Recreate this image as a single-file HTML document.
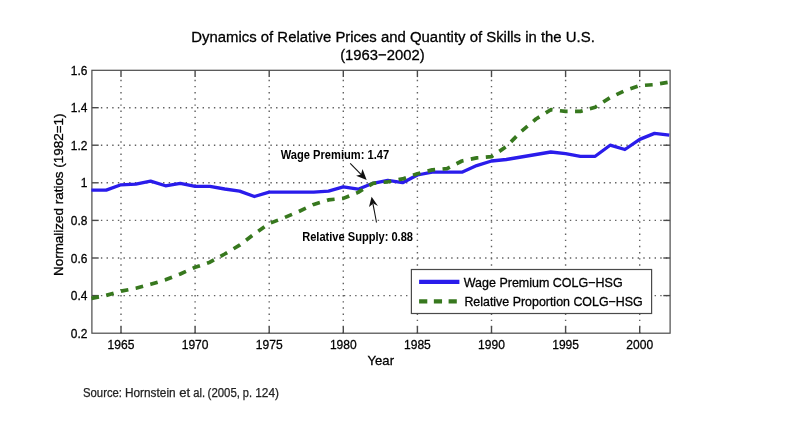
<!DOCTYPE html>
<html><head><meta charset="utf-8"><title>Chart</title>
<style>html,body{margin:0;padding:0;background:#fff;}text,.ls{font-family:"Liberation Sans",sans-serif;}body{width:797px;height:427px;position:relative;overflow:hidden;font-family:"Liberation Sans",sans-serif;}</style></head>
<body>
<svg width="797" height="427" viewBox="0 0 797 427" style="position:absolute;left:0;top:0;filter:blur(0.45px)">
<rect width="797" height="427" fill="#fff"/>
<g stroke="#606060" stroke-width="1.4" fill="none">
<line x1="121.0" y1="79.8" x2="121.0" y2="333.2" stroke-dasharray="1.4 4.75"/>
<line x1="195.1" y1="79.8" x2="195.1" y2="333.2" stroke-dasharray="1.4 4.75"/>
<line x1="269.2" y1="79.8" x2="269.2" y2="333.2" stroke-dasharray="1.4 4.75"/>
<line x1="343.3" y1="79.8" x2="343.3" y2="333.2" stroke-dasharray="1.4 4.75"/>
<line x1="417.4" y1="79.8" x2="417.4" y2="333.2" stroke-dasharray="1.4 4.75"/>
<line x1="491.5" y1="79.8" x2="491.5" y2="333.2" stroke-dasharray="1.4 4.75"/>
<line x1="565.6" y1="79.8" x2="565.6" y2="333.2" stroke-dasharray="1.4 4.75"/>
<line x1="639.7" y1="79.8" x2="639.7" y2="333.2" stroke-dasharray="1.4 4.75"/>
<line x1="100.9" y1="107.7" x2="670.1" y2="107.7" stroke-dasharray="1.4 4.25"/>
<line x1="100.9" y1="145.2" x2="670.1" y2="145.2" stroke-dasharray="1.4 4.25"/>
<line x1="100.9" y1="182.8" x2="670.1" y2="182.8" stroke-dasharray="1.4 4.25"/>
<line x1="100.9" y1="220.4" x2="670.1" y2="220.4" stroke-dasharray="1.4 4.25"/>
<line x1="100.9" y1="258.0" x2="670.1" y2="258.0" stroke-dasharray="1.4 4.25"/>
<line x1="100.9" y1="295.6" x2="670.1" y2="295.6" stroke-dasharray="1.4 4.25"/>
</g>
<rect x="91.9" y="70.3" width="578.2" height="262.9" fill="none" stroke="#4a4a4a" stroke-width="1.2"/>
<g stroke="#4a4a4a" stroke-width="1.4">
<line x1="121.0" y1="333.2" x2="121.0" y2="326.4"/>
<line x1="121.0" y1="70.3" x2="121.0" y2="77.1"/>
<line x1="195.1" y1="333.2" x2="195.1" y2="326.4"/>
<line x1="195.1" y1="70.3" x2="195.1" y2="77.1"/>
<line x1="269.2" y1="333.2" x2="269.2" y2="326.4"/>
<line x1="269.2" y1="70.3" x2="269.2" y2="77.1"/>
<line x1="343.3" y1="333.2" x2="343.3" y2="326.4"/>
<line x1="343.3" y1="70.3" x2="343.3" y2="77.1"/>
<line x1="417.4" y1="333.2" x2="417.4" y2="326.4"/>
<line x1="417.4" y1="70.3" x2="417.4" y2="77.1"/>
<line x1="491.5" y1="333.2" x2="491.5" y2="326.4"/>
<line x1="491.5" y1="70.3" x2="491.5" y2="77.1"/>
<line x1="565.6" y1="333.2" x2="565.6" y2="326.4"/>
<line x1="565.6" y1="70.3" x2="565.6" y2="77.1"/>
<line x1="639.7" y1="333.2" x2="639.7" y2="326.4"/>
<line x1="639.7" y1="70.3" x2="639.7" y2="77.1"/>
<line x1="91.9" y1="107.7" x2="98.7" y2="107.7"/>
<line x1="670.1" y1="107.7" x2="663.3" y2="107.7"/>
<line x1="91.9" y1="145.2" x2="98.7" y2="145.2"/>
<line x1="670.1" y1="145.2" x2="663.3" y2="145.2"/>
<line x1="91.9" y1="182.8" x2="98.7" y2="182.8"/>
<line x1="670.1" y1="182.8" x2="663.3" y2="182.8"/>
<line x1="91.9" y1="220.4" x2="98.7" y2="220.4"/>
<line x1="670.1" y1="220.4" x2="663.3" y2="220.4"/>
<line x1="91.9" y1="258.0" x2="98.7" y2="258.0"/>
<line x1="670.1" y1="258.0" x2="663.3" y2="258.0"/>
<line x1="91.9" y1="295.6" x2="98.7" y2="295.6"/>
<line x1="670.1" y1="295.6" x2="663.3" y2="295.6"/>
</g>
<polyline points="91.4,190.1 106.2,190.1 121.0,184.8 135.8,184.1 150.6,181.1 165.5,185.8 180.3,183.3 195.1,186.4 209.9,186.4 224.7,189.0 239.6,191.1 254.4,196.5 269.2,192.2 284.0,192.2 298.8,192.2 313.7,192.2 328.5,191.1 343.3,186.8 358.1,189.2 372.9,183.3 387.8,180.3 402.6,182.7 417.4,175.0 432.2,172.2 447.0,172.2 461.9,172.2 476.7,165.6 491.5,161.0 506.3,159.5 521.1,157.0 536.0,154.5 550.8,152.0 565.6,153.7 580.4,156.3 595.2,156.3 610.1,145.2 624.9,149.5 639.7,139.4 654.5,133.4 669.3,135.2" fill="none" stroke="#2a1ceb" stroke-width="3.3" stroke-linejoin="round"/>
<polyline points="91.4,298.4 106.2,295.4 121.0,291.1 135.8,288.3 150.6,284.3 165.5,279.8 180.3,274.0 195.1,267.3 209.9,262.2 224.7,254.0 239.6,245.2 254.4,233.9 269.2,223.5 284.0,217.8 298.8,211.5 313.7,204.4 328.5,199.9 343.3,198.4 358.1,192.4 372.9,183.3 387.8,181.8 402.6,178.9 417.4,173.7 432.2,169.9 447.0,168.6 461.9,161.0 476.7,157.9 491.5,156.7 506.3,146.6 521.1,131.5 536.0,119.0 550.8,109.7 565.6,111.4 580.4,111.4 595.2,107.2 610.1,97.6 624.9,90.6 639.7,85.6 654.5,84.6 669.3,82.1" fill="none" stroke="#37781e" stroke-width="3.7" stroke-dasharray="7.7 7.45" stroke-linejoin="round"/>
<g fill="#000" stroke="#000" stroke-width="0.3">
<text x="191.2" y="42.2" font-size="15.3" textLength="403.6" lengthAdjust="spacingAndGlyphs">Dynamics of Relative Prices and Quantity of Skills in the U.S.</text>
<text x="340.2" y="59.5" font-size="15.3" textLength="84.4" lengthAdjust="spacingAndGlyphs">(1963−2002)</text>
<text x="87.4" y="74.9" font-size="13.4" text-anchor="end" textLength="16.6" lengthAdjust="spacingAndGlyphs">1.6</text>
<text x="87.4" y="112.3" font-size="13.4" text-anchor="end" textLength="16.6" lengthAdjust="spacingAndGlyphs">1.4</text>
<text x="87.4" y="149.8" font-size="13.4" text-anchor="end" textLength="16.6" lengthAdjust="spacingAndGlyphs">1.2</text>
<text x="87.4" y="187.4" font-size="13.4" text-anchor="end" textLength="6.7" lengthAdjust="spacingAndGlyphs">1</text>
<text x="87.4" y="225.0" font-size="13.4" text-anchor="end" textLength="16.6" lengthAdjust="spacingAndGlyphs">0.8</text>
<text x="87.4" y="262.6" font-size="13.4" text-anchor="end" textLength="16.6" lengthAdjust="spacingAndGlyphs">0.6</text>
<text x="87.4" y="300.2" font-size="13.4" text-anchor="end" textLength="16.6" lengthAdjust="spacingAndGlyphs">0.4</text>
<text x="87.4" y="337.8" font-size="13.4" text-anchor="end" textLength="16.6" lengthAdjust="spacingAndGlyphs">0.2</text>
<text x="107.6" y="349.2" font-size="13.4" textLength="26.8" lengthAdjust="spacingAndGlyphs">1965</text>
<text x="181.7" y="349.2" font-size="13.4" textLength="26.8" lengthAdjust="spacingAndGlyphs">1970</text>
<text x="255.8" y="349.2" font-size="13.4" textLength="26.8" lengthAdjust="spacingAndGlyphs">1975</text>
<text x="329.9" y="349.2" font-size="13.4" textLength="26.8" lengthAdjust="spacingAndGlyphs">1980</text>
<text x="404.0" y="349.2" font-size="13.4" textLength="26.8" lengthAdjust="spacingAndGlyphs">1985</text>
<text x="478.1" y="349.2" font-size="13.4" textLength="26.8" lengthAdjust="spacingAndGlyphs">1990</text>
<text x="552.2" y="349.2" font-size="13.4" textLength="26.8" lengthAdjust="spacingAndGlyphs">1995</text>
<text x="626.3" y="349.2" font-size="13.4" textLength="26.8" lengthAdjust="spacingAndGlyphs">2000</text>
<text x="367.6" y="365.2" font-size="13.2" textLength="26.4" lengthAdjust="spacingAndGlyphs">Year</text>
<g transform="translate(62.9,276.0) rotate(-90)">
<text x="0" y="0" font-size="12.2" textLength="162.5" lengthAdjust="spacingAndGlyphs">Normalized ratios (1982=1)</text>
</g>
<text x="280.8" y="158.6" font-size="11.9" font-weight="bold" stroke="none" textLength="108.3" lengthAdjust="spacingAndGlyphs">Wage Premium: 1.47</text>
<text x="302.2" y="240.5" font-size="11.9" font-weight="bold" stroke="none" textLength="110.8" lengthAdjust="spacingAndGlyphs">Relative Supply: 0.88</text>
</g>
<g stroke="#111" stroke-width="1.1" fill="#111">
<line x1="350.2" y1="163.4" x2="362" y2="175.4"/><polygon points="366.7,180.1 356.1,175.7 361,174.4 362.5,169" stroke="none"/>
<line x1="376.5" y1="222.5" x2="373" y2="204"/><polygon points="371.6,196.8 378,205.9 373.3,203.4 369,207.1" stroke="none"/>
</g>
<rect x="411.4" y="269.5" width="240.2" height="44" fill="#fff" stroke="#4a4a4a" stroke-width="1.2"/>
<line x1="419.1" y1="281.8" x2="459.4" y2="281.8" stroke="#2a1ceb" stroke-width="4.3"/>
<line x1="419.1" y1="301.3" x2="459.4" y2="301.3" stroke="#37781e" stroke-width="4.3" stroke-dasharray="8.2 6.55"/>
<g fill="#000" stroke="#000" stroke-width="0.3">
<text x="463.8" y="287.1" font-size="13.2" textLength="158.8" lengthAdjust="spacingAndGlyphs">Wage Premium COLG−HSG</text>
<text x="464.4" y="306.4" font-size="13.2" textLength="178.3" lengthAdjust="spacingAndGlyphs">Relative Proportion COLG−HSG</text>
</g>
<g fill="#222" stroke="#222" stroke-width="0.25">
<text x="83.0" y="397.2" font-size="12.3" textLength="39.0" lengthAdjust="spacingAndGlyphs">Source:</text>
<text x="125.0" y="397.2" font-size="12.3" textLength="50.6" lengthAdjust="spacingAndGlyphs">Hornstein</text>
<text x="179.3" y="397.2" font-size="12.3" textLength="10.9" lengthAdjust="spacingAndGlyphs">et</text>
<text x="193.2" y="397.2" font-size="12.3" textLength="11.8" lengthAdjust="spacingAndGlyphs">al.</text>
<text x="207.6" y="397.2" font-size="12.3" textLength="32.4" lengthAdjust="spacingAndGlyphs">(2005,</text>
<text x="242.8" y="397.2" font-size="12.3" textLength="9.2" lengthAdjust="spacingAndGlyphs">p.</text>
<text x="255.2" y="397.2" font-size="12.3" textLength="23.8" lengthAdjust="spacingAndGlyphs">124)</text>
</g>
</svg>
</body></html>
